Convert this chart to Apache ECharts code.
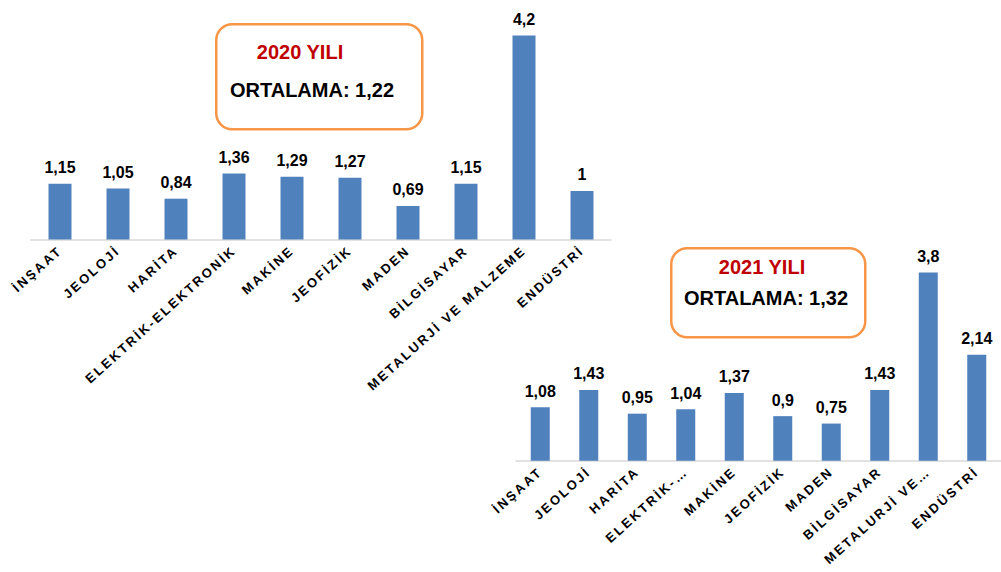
<!DOCTYPE html>
<html>
<head>
<meta charset="utf-8">
<script src="https://cdn.jsdelivr.net/npm/echarts@6/dist/echarts.min.js"></script>
<style>
    html, body { margin: 0; padding: 0; background: #fff; }
    #chart { width: 1001px; height: 572px; }
    /* rotated axis labels are spaced out in the original (42deg -> matrix(0.743...) */
    #chart svg text[transform^="matrix(0.743"] { letter-spacing: 2.3px; }
</style>
</head>
<body>
<div id="chart"></div>
<script>
    // 2020
    const labels2020 = ['İNŞAAT', 'JEOLOJİ', 'HARİTA', 'ELEKTRİK-ELEKTRONİK', 'MAKİNE', 'JEOFİZİK', 'MADEN', 'BİLGİSAYAR', 'METALURJİ VE MALZEME', 'ENDÜSTRİ'];
    const values2020 = [1.15, 1.05, 0.84, 1.36, 1.29, 1.27, 0.69, 1.15, 4.2, 1];
    const avg2020 = '1,22';

    // 2021 (long names are cut in the original)
    const labels2021 = ['İNŞAAT', 'JEOLOJİ', 'HARİTA', 'ELEKTRİK-…', 'MAKİNE', 'JEOFİZİK', 'MADEN', 'BİLGİSAYAR', 'METALURJİ VE…', 'ENDÜSTRİ'];
    const values2021 = [1.08, 1.43, 0.95, 1.04, 1.37, 0.9, 0.75, 1.43, 3.8, 2.14];
    const avg2021 = '1,32';

    const barColor = '#4F81BD';
    const font = 'Arial, "Liberation Sans", sans-serif';

    const myChart = echarts.init(document.getElementById('chart'), null, { renderer: 'svg' });

    const commaFmt = p => String(p.value).replace('.', ',');

    function xAxisFor(idx, labels) {
        return {
            type: 'category',
            gridIndex: idx,
            data: labels,
            axisTick: { show: false },
            axisLine: { lineStyle: { color: '#d9d9d9', width: 1.5 } },
            axisLabel: {
                interval: 0,
                rotate: 42,
                margin: 9,
                color: '#000',
                fontWeight: 'bold',
                fontSize: 13,
                fontFamily: font
            }
        };
    }

    function yAxisFor(idx, max) {
        return {
            type: 'value',
            gridIndex: idx,
            min: 0,
            max: max,
            show: false,
            splitLine: { show: false }
        };
    }

    function barSeries(idx, data, width) {
        return {
            type: 'bar',
            xAxisIndex: idx,
            yAxisIndex: idx,
            data: data,
            barWidth: width,
            itemStyle: { color: barColor },
            label: {
                show: true,
                position: 'top',
                distance: 8,
                color: '#000',
                fontWeight: 'bold',
                fontSize: 16,
                fontFamily: font,
                formatter: commaFmt
            }
        };
    }

    function infoBox(x, y, w, h, year, avg, tx) {
        return [
            {
                type: 'rect',
                left: x, top: y,
                shape: { width: w, height: h, r: 16 },
                style: { fill: '#fff', stroke: '#F79646', lineWidth: 2.5 }
            },
            {
                type: 'text',
                x: tx.yearX, y: tx.yearY,
                style: {
                    text: year, fill: '#C00000', font: 'bold 20px ' + font,
                    align: 'center', verticalAlign: 'middle'
                }
            },
            {
                type: 'text',
                x: tx.avgX, y: tx.avgY,
                style: {
                    text: 'ORTALAMA: ' + avg, fill: '#000', font: 'bold 20px ' + font,
                    align: 'center', verticalAlign: 'middle'
                }
            }
        ];
    }

    myChart.setOption({
        animation: false,
        grid: [
            { left: 31, width: 580, top: 21, height: 218.5 },
            { left: 516, width: 490, top: 262.7, height: 198 }
        ],
        xAxis: [xAxisFor(0, labels2020), xAxisFor(1, labels2021)],
        yAxis: [yAxisFor(0, 4.5), yAxisFor(1, 4)],
        series: [
            barSeries(0, values2020, 23),
            barSeries(1, values2021, 19)
        ],
        graphic: [
            ...infoBox(215, 23, 206, 105, '2020 YILI', avg2020,
                { yearX: 300, yearY: 52, avgX: 312, avgY: 90 }),
            ...infoBox(670, 247, 194, 89, '2021 YILI', avg2021,
                { yearX: 762, yearY: 267, avgX: 766, avgY: 298 })
        ]
    });
</script>
</body>
</html>
